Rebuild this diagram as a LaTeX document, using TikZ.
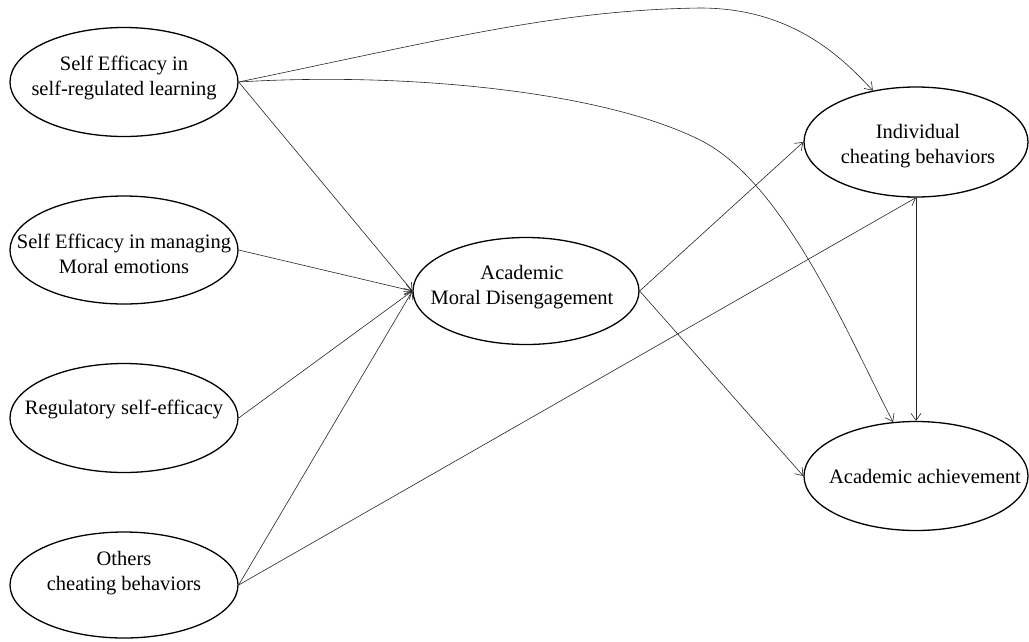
\documentclass[tikz,border=0pt]{standalone}
\usepackage{fontspec}
\setmainfont{Liberation Serif}
\usetikzlibrary{shapes.geometric,arrows.meta}
\begin{document}
\begin{tikzpicture}[x=1pt,y=-1pt,
  oval/.style={draw=black,line width=1.3pt,ellipse,inner sep=0pt,minimum width=#1},
  oval/.default={228pt},
  lbl/.style={align=center,inner sep=0pt,font=\fontsize{20.5}{25}\selectfont},
  conn/.style={draw=black!85,line width=0.6pt,-{Straight Barb[length=7pt,width=10pt]}}]
\useasboundingbox (0,0) rectangle (1029,641);
\fill[white] (0,0) rectangle (1029,641);
% nodes
\node[oval,minimum height=109pt] (se1) at (124,82) {};
\node[oval,minimum height=108pt] (se2) at (124,250) {};
\node[oval,minimum height=109pt] (reg) at (124,418) {};
\node[oval,minimum height=106pt] (oth) at (124,585) {};
\node[oval=226pt,minimum height=107pt] (amd) at (526,291) {};
\node[oval=224pt,minimum height=110pt] (ind) at (916,142) {};
\node[oval=224pt,minimum height=109pt] (ach) at (916,476) {};
% labels
\node[lbl] at (124,78) {Self Efficacy in\\self-regulated learning};
\node[lbl] at (124,254) {Self Efficacy in managing\\Moral emotions};
\node[lbl] at (124,409) {Regulatory self-efficacy};
\node[lbl] at (124,573) {Others\\cheating behaviors};
\node[lbl] at (522,287) {Academic\\Moral Disengagement};
\node[lbl] at (918,146) {Individual\\cheating behaviors};
\node[lbl] at (925,476) {Academic achievement};
% helper coordinates for the curved paths
\coordinate (t1) at (700,8);
\coordinate (t2) at (700,140);
% connectors
\draw[conn] (se1.east) .. controls (450,38) and (560,10) .. (t1)
  .. controls (790,8) and (840,55) .. (ind.130);
\draw[conn] (se1.east) .. controls (400,72) and (600,90) .. (t2)
  .. controls (785,182) and (850,340) .. (ach.113);
\draw[conn] (se1.east) -- (amd.west);
\draw[conn] (se2.east) -- (amd.west);
\draw[conn] (reg.east) -- (amd.west);
\draw[conn] (oth.east) -- (amd.west);
\draw[conn] (oth.east) -- (ind.south);
\draw[conn] (amd.east) -- (ind.west);
\draw[conn] (amd.east) -- (ach.west);
\draw[conn] (ind.south) -- (ach.north);
\end{tikzpicture}
\end{document}
